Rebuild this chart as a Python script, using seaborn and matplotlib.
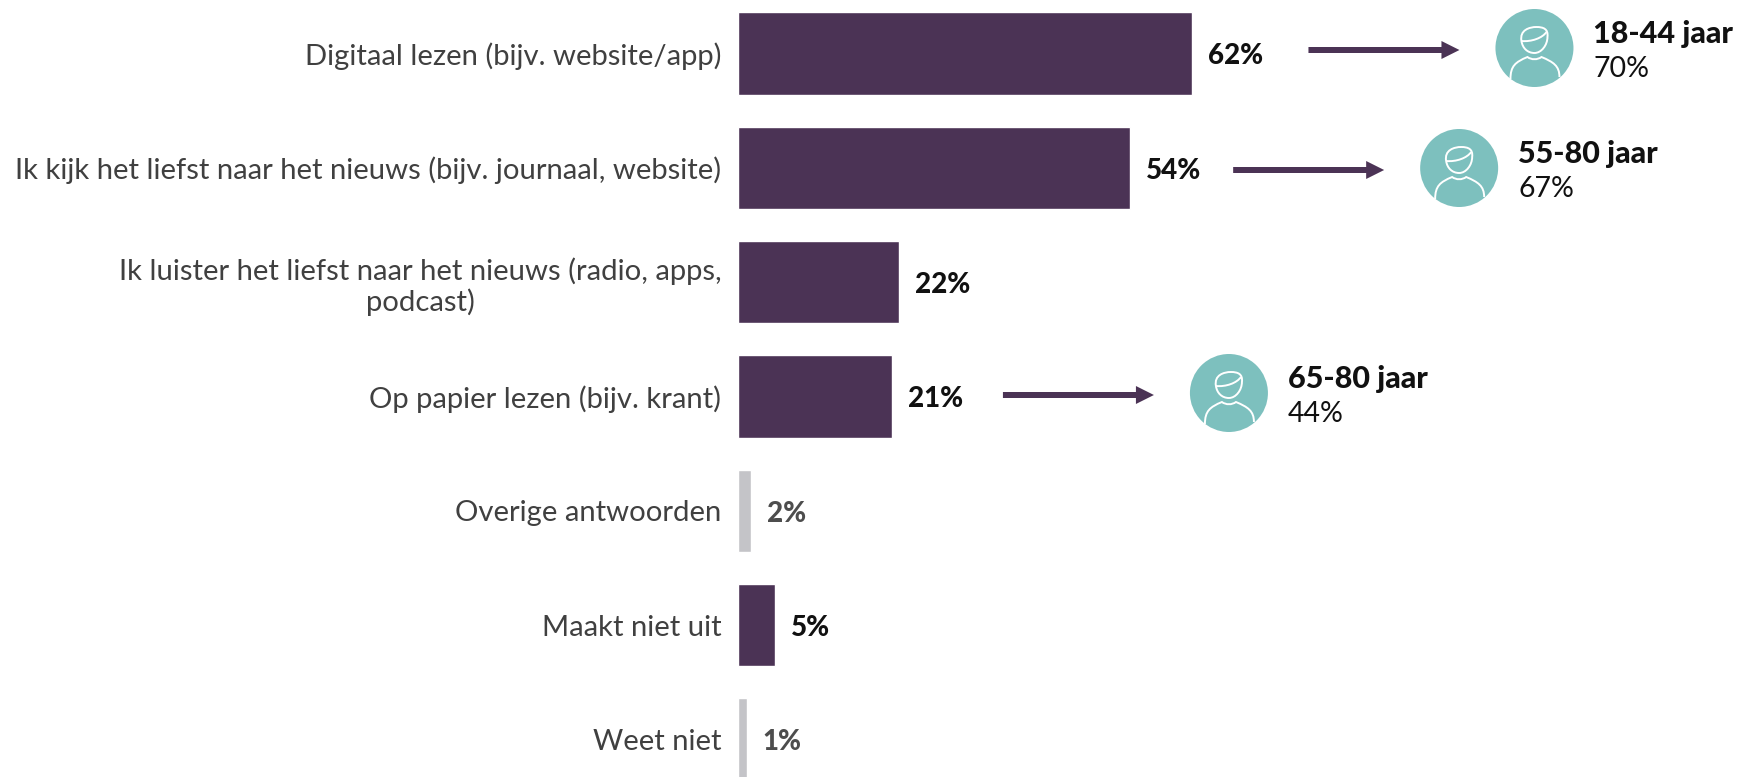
import matplotlib
matplotlib.use("Agg")
import matplotlib.pyplot as plt
from matplotlib.patches import Circle, PathPatch
from matplotlib.path import Path
import seaborn as sns
import pandas as pd

categories = ["Digitaal lezen (bijv. website/app)",
              "Ik kijk het liefst naar het nieuws (bijv. journaal, website)",
              "Ik luister het liefst naar het nieuws (radio, apps,\npodcast)",
              "Op papier lezen (bijv. krant)",
              "Overige antwoorden", "Maakt niet uit", "Weet niet"]
values = [62, 53.5, 22, 21, 1.8, 5, 1.2]
labels = ["62%", "54%", "22%", "21%", "2%", "5%", "1%"]
muted = [False, False, False, False, True, False, True]
callout_rows = [0, 1, 3]
callout_heads = ["18-44 jaar", "55-80 jaar", "65-80 jaar"]
callout_vals = ["70%", "67%", "44%"]

PURPLE, GREY, TEAL = "#4B3355", "#C4C4C8", "#7DC0BE"
FONT = "Lato"
W, H = 1737, 777
X0, PX = 738, 7.33
Y0, STEP = 53.5, 114.3

sns.set_theme(style="white")
plt.rcParams["font.family"] = [FONT, "DejaVu Sans"]

fig = plt.figure(figsize=(W / 100, H / 100), dpi=100, facecolor="white")
ax = fig.add_axes([X0 / W, 0, 1 - X0 / W, 1])
df = pd.DataFrame({"cat": categories, "val": values})
sns.barplot(data=df, x="val", y="cat", hue="cat", orient="h", width=0.72,
            palette=[GREY if m else PURPLE for m in muted],
            legend=False, ax=ax, saturation=1)
ax.set_xlim(0, (W - X0) / PX)
ax.set_ylim((H - Y0) / STEP, -Y0 / STEP)
ax.set_xticks([])
ax.set_xlabel("")
ax.set_ylabel("")
sns.despine(ax=ax, left=True, bottom=True)
ax.tick_params(axis="y", length=0, pad=12)
for t in ax.get_yticklabels():
    t.set_fontsize(21.1)
    t.set_color("#404040")
    t.set_fontweight("normal")
    t.set_linespacing(1.17)
    t.set_multialignment("center")

# overlay in pixel coordinates for callouts
ov = fig.add_axes([0, 0, 1, 1], facecolor="none")
ov.set_xlim(0, W)
ov.set_ylim(H, 0)
ov.axis("off")

for i, (v, lab, m) in enumerate(zip(values, labels, muted)):
    ov.text(X0 + v * PX + 16, Y0 + i * STEP + 3, lab, fontsize=20, fontweight="black",
            color="#4d4d4d" if m else "#111111", va="center", ha="left")


def person(cx, cy):
    ov.add_patch(Circle((cx, cy), 39, fc=TEAL, ec="none"))
    M, C = Path.MOVETO, Path.CURVE4
    head = [(-13, -7), (-15, -18), (-5, -21), (2, -21), (9, -21), (14, -19), (13, -11),
            (13, -3), (7, 5), (0, 5), (-7, 5), (-12, 0), (-13, -7)]
    hair = [(-13, -7), (-3, -6), (8, -10), (12, -16)]
    body = [(-24, 31), (-24, 18), (-19, 14), (-7, 9), (-3, 12), (3, 12), (7, 9),
            (19, 14), (25, 18), (25, 29)]
    for pts in (head, hair, body):
        codes = [M] + [C] * (len(pts) - 1)
        ov.add_patch(PathPatch(Path([(cx + a, cy + b) for a, b in pts], codes),
                               fc="none", ec="white", lw=1.4))


arrow_y = {0: 50, 1: 170, 3: 395}
arrow_off = {0: 116, 1: 103, 3: 111}
for r, head, val in zip(callout_rows, callout_heads, callout_vals):
    end = X0 + values[r] * PX
    y = arrow_y[r]
    x1 = end + arrow_off[r]
    x2 = x1 + 151
    ov.arrow(x1, y, x2 - x1, 0, width=6, head_width=18, head_length=18,
             length_includes_head=True, fc=PURPLE, ec="none")
    cx = x2 + 75
    person(cx, y - 2)
    ov.text(cx + 59, y - 16, head, fontsize=22, fontweight="black", color="#111111",
            va="center", ha="left")
    ov.text(cx + 59, y + 19, val, fontsize=20.5, color="#111111", va="center", ha="left")

fig.savefig("out.png", dpi=100)
